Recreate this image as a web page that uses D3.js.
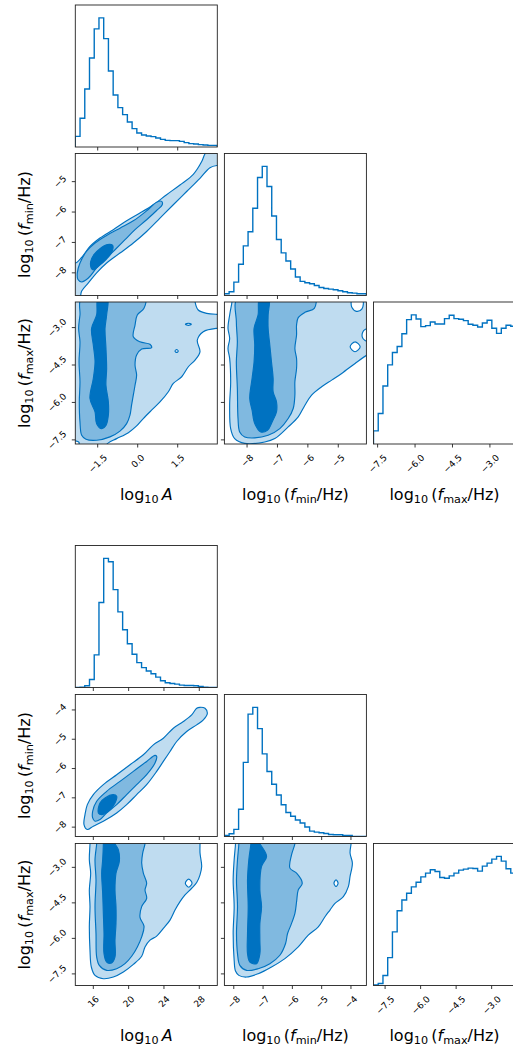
<!DOCTYPE html>
<html>
<head>
<meta charset="utf-8">
<script src="https://cdn.jsdelivr.net/npm/d3@7"></script>
<style>
  body { margin: 0; background: #fff; }
  svg { display: block; font-family: "DejaVu Sans", sans-serif; }
</style>
</head>
<body>
<div id="chart"></div>
<script>
// ---- axis ranges and ticks (upper corner plot) ----
const topRangeA    = [-2.34, 2.985];
const topRangeFmin = [-8.745, -4.075];
const topRangeFmax = [-7.665, -1.975];
const topTicksA    = [-1.5, 0.0, 1.5];
const topTicksFmin = [-8, -7, -6, -5];
const topTicksFmax = [-7.5, -6.0, -4.5, -3.0];

// ---- axis ranges and ticks (lower corner plot) ----
const botRangeA    = [13.96, 30.04];
const botRangeFmin = [-8.32, -3.473];
const botRangeFmax = [-7.99, -1.993];
const botTicksA    = [16, 20, 24, 28];
const botTicksFmin = [-8, -7, -6, -5, -4];
const botTicksFmax = [-7.5, -6.0, -4.5, -3.0];

// ---- 1D histograms, 30 bins over each range ----
const topHistA    = [32, 86, 174, 267, 354, 387, 325, 228, 156, 118, 97, 75, 55, 42, 36, 33, 31, 27, 23, 20, 19, 19, 17, 13, 10, 9, 7, 6, 5, 5];
const topHistFmin = [5, 11, 40, 93, 148, 190, 260, 352, 385, 325, 237, 167, 127, 103, 79, 55, 42, 38, 35, 30, 24, 21, 19, 17, 14, 11, 8, 7, 5, 5];
const topHistFmax = [39, 91, 173, 236, 273, 291, 329, 371, 385, 373, 350, 353, 364, 358, 358, 374, 384, 374, 372, 368, 357, 354, 349, 361, 369, 345, 330, 345, 354, 351];
const botHistA    = [0, 1, 5, 24, 97, 253, 384, 374, 291, 225, 172, 130, 99, 74, 59, 49, 41, 31, 20, 14, 12, 10, 7, 6, 6, 5, 3, 1, 0, 0];
const botHistFmin = [3, 8, 21, 81, 220, 363, 383, 320, 245, 193, 155, 123, 94, 71, 60, 49, 40, 28, 16, 13, 11, 9, 6, 5, 5, 3, 3, 0, 0, 0];
const botHistFmax = [2, 6, 30, 83, 160, 223, 255, 275, 294, 308, 324, 335, 345, 340, 322, 320, 327, 335, 344, 347, 350, 349, 341, 356, 365, 377, 385, 371, 348, 335];

// ---- 2D credible contours (outer / middle / inner), in data units ----
// upper plot: log10 A vs log10 fmin
const topAFmin1 = [[[-2.5,-7.6],[-2.34,-7.675],[-2.10,-7.49],[-1.79,-7.13],[-1.415,-6.855],[-0.915,-6.58],[-0.415,-6.29],[0.085,-6.035],[0.585,-5.76],[1.085,-5.43],[1.585,-5.11],[2.085,-4.76],[2.40,-4.34],[2.52,-4.09],[2.7,-3.9],[3.2,-3.9],[3.2,-4.47],[2.97,-4.47],[2.71,-4.54],[2.335,-4.89],[1.835,-5.325],[1.335,-5.76],[0.835,-6.2],[0.335,-6.64],[-0.165,-7.02],[-0.665,-7.35],[-1.165,-7.675],[-1.54,-8.0],[-1.85,-8.33],[-2.1,-8.6],[-2.2,-8.9],[-2.5,-8.9]]];
const topAFmin2 = [[[-2.265,-8.0],[-2.165,-7.675],[-1.915,-7.29],[-1.60,-7.02],[-1.165,-6.77],[-0.665,-6.53],[-0.165,-6.29],[0.335,-5.96],[0.71,-5.675],[0.90,-5.65],[0.92,-5.76],[0.71,-5.95],[0.335,-6.255],[-0.10,-6.58],[-0.475,-6.91],[-0.85,-7.24],[-1.225,-7.565],[-1.54,-7.84],[-1.85,-8.17],[-2.10,-8.30],[-2.24,-8.22]]];
const topAFmin3 = [[[-1.73,-7.86],[-1.765,-7.64],[-1.64,-7.40],[-1.415,-7.205],[-1.14,-7.07],[-0.94,-7.095],[-0.965,-7.31],[-1.19,-7.565],[-1.465,-7.78],[-1.665,-7.90]]];

// upper plot: log10 A vs log10 fmax
const topAFmax1 = [[[-2.5,-1.8],[2.15,-1.8],[2.15,-1.96],[2.27,-2.295],[2.585,-2.43],[2.97,-2.47],[3.2,-2.47],[3.2,-3.03],[2.97,-3.03],[2.46,-3.165],[2.235,-3.50],[2.335,-3.97],[2.15,-4.30],[1.9,-4.57],[1.65,-4.97],[1.335,-5.24],[1.15,-5.57],[0.835,-5.98],[0.52,-6.31],[0.21,-6.645],[-0.04,-6.94],[-0.35,-7.21],[-0.79,-7.45],[-1.1,-7.62],[-1.3,-7.8],[-2.2,-7.8],[-2.2,-7.6],[-2.34,-7.54],[-2.5,-7.54]]];
const topAFmax2 = [[[-2.1,-1.8],[-2.165,-2.495],[-2.215,-3.03],[-2.165,-3.57],[-2.20,-4.37],[-2.165,-5.17],[-2.19,-5.98],[-2.165,-6.78],[-2.10,-7.315],[-1.94,-7.475],[-1.54,-7.515],[-1.04,-7.38],[-0.665,-7.15],[-0.415,-6.85],[-0.29,-6.51],[-0.23,-6.11],[-0.165,-5.71],[-0.10,-5.31],[-0.04,-4.905],[-0.10,-4.50],[-0.04,-4.10],[0.15,-3.86],[0.52,-3.81],[0.46,-3.67],[0.085,-3.57],[-0.165,-3.365],[-0.10,-2.90],[-0.015,-2.495],[0.235,-2.23],[0.27,-1.8]]];
const topAFmax3 = [[[-1.48,-1.8],[-1.54,-2.495],[-1.73,-3.03],[-1.665,-3.70],[-1.60,-4.37],[-1.665,-5.04],[-1.79,-5.84],[-1.60,-6.38],[-1.54,-6.85],[-1.35,-7.05],[-1.19,-6.92],[-1.10,-6.51],[-1.10,-5.98],[-1.19,-5.31],[-1.165,-4.64],[-1.19,-3.83],[-1.225,-3.03],[-1.165,-2.495],[-1.14,-1.8]]];
const topAFmaxIslands = [[[1.79,-2.87],[1.9,-2.825],[2.01,-2.87],[1.9,-2.915]], [[1.40,-3.94],[1.46,-3.88],[1.52,-3.94],[1.46,-4.0]]];

// upper plot: log10 fmin vs log10 fmax (outer ring followed by holes)
const topFminFmax1 = [
  [[-8.49,-1.8],[-8.495,-1.96],[-8.572,-2.495],[-8.627,-3.031],[-8.572,-3.433],[-8.627,-3.834],[-8.572,-4.236],[-8.539,-5.173],[-8.572,-6.11],[-8.539,-7.047],[-8.407,-7.449],[-8.077,-7.64],[-7.417,-7.583],[-7.087,-7.449],[-6.647,-6.98],[-6.317,-6.578],[-6.097,-6.11],[-5.877,-5.708],[-5.547,-5.374],[-5.217,-5.106],[-4.887,-4.838],[-4.447,-4.437],[-4.062,-4.102],[-3.9,-4.0],[-3.9,-1.8]],
  [[-4.55,-1.9],[-4.55,-2.2],[-4.4,-2.35],[-4.22,-2.25],[-4.2,-1.9]],
  [[-4.2,-3.2],[-4.12,-3.08],[-3.95,-3.05],[-3.95,-3.55],[-4.12,-3.52],[-4.21,-3.38]],
  [[-4.61,-3.77],[-4.45,-3.57],[-4.28,-3.77],[-4.45,-3.97]]
];
const topFminFmax2 = [[[-5.77,-1.8],[-5.789,-2.228],[-6.097,-2.388],[-6.317,-2.603],[-6.372,-2.897],[-6.372,-3.299],[-6.427,-3.834],[-6.372,-4.236],[-6.372,-4.637],[-6.427,-5.173],[-6.427,-5.708],[-6.482,-6.244],[-6.647,-6.645],[-6.922,-7.047],[-7.307,-7.315],[-7.747,-7.422],[-8.077,-7.382],[-8.242,-7.181],[-8.297,-6.645],[-8.319,-5.441],[-8.352,-4.37],[-8.319,-3.566],[-8.352,-2.763],[-8.3,-1.8]]];
const topFminFmax3 = [[[-7.582,-1.8],[-7.637,-2.495],[-7.769,-3.031],[-7.747,-3.70],[-7.769,-4.37],[-7.835,-5.039],[-7.912,-5.842],[-7.835,-6.311],[-7.747,-6.846],[-7.55,-7.181],[-7.329,-7.114],[-7.175,-6.779],[-7.032,-6.378],[-7.032,-5.976],[-7.142,-5.575],[-7.142,-5.039],[-7.197,-4.37],[-7.252,-3.70],[-7.307,-3.031],[-7.307,-2.495],[-7.285,-1.8]]];

// lower plot: log10 A vs log10 fmin
const botAFmin1 = [[[15.323,-7.231],[16.0,-6.891],[17.135,-6.551],[18.645,-6.211],[20.155,-5.871],[21.665,-5.531],[22.797,-5.191],[23.93,-4.964],[25.063,-4.624],[26.195,-4.397],[27.139,-4.17],[27.706,-3.944],[28.083,-3.91],[28.649,-3.944],[28.914,-4.114],[28.461,-4.34],[27.706,-4.51],[26.573,-4.737],[25.44,-5.077],[24.685,-5.417],[23.93,-5.758],[23.175,-6.098],[22.042,-6.551],[20.91,-6.891],[19.777,-7.231],[18.645,-7.515],[17.135,-7.798],[16.0,-7.968],[15.323,-8.082],[14.945,-7.912],[15.058,-7.572]]];
const botAFmin2 = [[[15.927,-7.458],[16.38,-7.118],[17.512,-6.778],[19.022,-6.438],[20.533,-6.098],[22.042,-5.758],[22.986,-5.553],[23.175,-5.587],[22.986,-5.814],[22.042,-6.211],[20.91,-6.551],[19.777,-6.891],[18.645,-7.231],[17.512,-7.515],[16.757,-7.742],[16.191,-7.798],[15.927,-7.685]]];
const botAFmin3 = [[[16.57,-7.515],[16.757,-7.175],[17.323,-7.005],[18.267,-6.891],[18.645,-6.948],[18.456,-7.175],[17.701,-7.458],[16.946,-7.572]]];

// lower plot: log10 A vs log10 fmax
const botAFmax1 = [
  [[15.62,-1.8],[15.624,-2.0],[15.549,-2.679],[15.7,-3.246],[15.549,-3.953],[15.624,-4.661],[15.549,-5.51],[15.624,-6.501],[15.775,-7.209],[16.191,-7.563],[17.135,-7.704],[18.267,-7.633],[19.4,-7.421],[20.533,-7.096],[21.477,-6.756],[21.854,-6.36],[22.42,-6.076],[23.175,-5.906],[23.93,-5.581],[24.685,-5.227],[25.251,-4.803],[25.817,-4.449],[26.384,-4.166],[27.139,-3.883],[27.706,-3.642],[28.083,-3.316],[28.272,-2.962],[28.083,-2.396],[28.083,-2.0],[28.08,-1.8]],
  [[26.42,-3.67],[26.8,-3.5],[27.18,-3.67],[26.8,-3.84]]
];
const botAFmax2 = [[[16.38,-1.8],[16.38,-2.0],[16.191,-2.679],[16.304,-3.529],[16.191,-4.661],[16.304,-5.793],[16.38,-6.784],[16.68,-7.138],[17.512,-7.35],[18.645,-7.28],[19.588,-7.067],[20.344,-6.756],[20.986,-6.36],[21.477,-5.935],[21.741,-5.482],[21.288,-5.114],[21.477,-4.661],[22.042,-4.307],[21.854,-3.953],[22.042,-3.67],[21.665,-3.246],[21.477,-2.821],[21.59,-2.396],[21.854,-2.0],[21.85,-1.8]]];
const botAFmax3 = [[[17.13,-1.8],[17.135,-2.0],[17.059,-2.679],[16.946,-3.246],[17.059,-4.095],[17.135,-4.944],[17.21,-5.793],[17.21,-6.643],[17.512,-6.997],[18.079,-7.039],[18.456,-6.784],[18.456,-6.076],[18.569,-5.369],[18.569,-4.661],[18.456,-3.953],[18.569,-3.246],[18.946,-2.75],[18.834,-2.255],[18.456,-2.0],[18.45,-1.8]]];

// lower plot: log10 fmin vs log10 fmax
const botFminFmax1 = [
  [[-7.94,-1.8],[-7.941,-2.0],[-7.987,-2.679],[-8.021,-3.529],[-7.987,-4.661],[-8.021,-5.793],[-7.987,-6.925],[-7.941,-7.379],[-7.827,-7.563],[-7.565,-7.633],[-7.166,-7.492],[-6.711,-7.209],[-6.255,-6.855],[-5.799,-6.36],[-5.457,-5.864],[-5.115,-5.51],[-4.887,-5.086],[-4.716,-4.803],[-4.545,-4.52],[-4.26,-4.236],[-4.089,-3.812],[-4.031,-3.387],[-3.952,-2.821],[-4.031,-2.396],[-3.997,-2.0],[-4.0,-1.8]],
  [[-4.58,-3.67],[-4.51,-3.53],[-4.44,-3.67],[-4.51,-3.81]]
];
const botFminFmax2 = [[[-7.83,-1.8],[-7.827,-2.0],[-7.873,-2.679],[-7.907,-3.529],[-7.873,-4.661],[-7.907,-5.793],[-7.873,-6.643],[-7.793,-7.138],[-7.565,-7.35],[-7.166,-7.28],[-6.768,-7.067],[-6.426,-6.713],[-6.232,-6.218],[-6.164,-5.793],[-6.05,-5.44],[-5.913,-4.944],[-5.856,-4.449],[-5.799,-3.953],[-5.662,-3.67],[-5.856,-3.246],[-6.084,-3.033],[-6.027,-2.467],[-5.913,-2.0],[-5.91,-1.8]]];
const botFminFmax3 = [[[-7.42,-1.8],[-7.417,-2.0],[-7.486,-2.679],[-7.531,-3.529],[-7.508,-4.661],[-7.531,-5.793],[-7.531,-6.643],[-7.451,-6.997],[-7.223,-7.067],[-7.109,-6.643],[-7.109,-6.076],[-7.109,-5.369],[-7.052,-4.661],[-7.109,-3.953],[-7.052,-2.962],[-6.881,-2.538],[-7.052,-2.113],[-7.109,-2.0],[-7.11,-1.8]]];

// ---- layout ----
const W = 513, H = 1049, CELL = 142;
const colX = [75.3, 224.4, 373.5];
const topRows = [5, 153.5, 302];
const botRows = [545.5, 694.5, 843.5];
const LINE = '#0072C1';
const FILLS = ['#BFDCF0', '#80B9E0', '#0072C1'];
const TICK_FS = 9, LABEL_FS = 16;

const labelA    = [{t: 'log'}, {t: '10', sub: true}, {t: '\u2009'}, {t: 'A', it: true}];
const labelFmin = [{t: 'log'}, {t: '10', sub: true}, {t: '\u2009('}, {t: 'f', it: true}, {t: 'min', sub: true}, {t: '/Hz)'}];
const labelFmax = [{t: 'log'}, {t: '10', sub: true}, {t: '\u2009('}, {t: 'f', it: true}, {t: 'max', sub: true}, {t: '/Hz)'}];

const svg = d3.select('#chart').append('svg').attr('width', W).attr('height', H);
const defs = svg.append('defs');
let clipN = 0;

function mathText(sel, parts) {
  let wasSub = false;
  parts.forEach(p => {
    const t = sel.append('tspan').text(p.t);
    if (p.it) t.attr('font-style', 'italic');
    if (p.sub) { t.attr('font-size', LABEL_FS * 0.7).attr('dy', wasSub ? 0 : 3.3); }
    else if (wasSub) t.attr('dy', -3.3);
    wasSub = !!p.sub;
  });
}

function tickLabel(cx0, cy0, str, side) {
  const t = svg.append('text').attr('font-size', TICK_FS).attr('text-anchor', 'middle')
    .attr('dy', '0.36em').attr('fill', '#000').text(str);
  const w = t.node().getComputedTextLength();
  const s = (w + 0.73 * TICK_FS) * 0.3536;
  const cx = side === 'bottom' ? cx0 : cx0 - 8.3 - s;
  const cy = side === 'bottom' ? cy0 + 9.5 + s : cy0;
  t.attr('x', cx).attr('y', cy).attr('transform', `rotate(-45,${cx},${cy})`);
}

function drawCorner(ranges, ticks, formats, hists, pairs, labels, rows) {
  const xs = ranges.map((r, i) => d3.scaleLinear().domain(r).range([colX[i], colX[i] + CELL]));
  const ys = ranges.map((r, i) => d3.scaleLinear().domain(r).range([rows[i] + CELL, rows[i]]));

  for (let i = 0; i < 3; i++) {
    for (let j = 0; j <= i; j++) {
      const x0 = colX[j], y0 = rows[i];
      const id = 'clip' + (clipN++);
      defs.append('clipPath').attr('id', id).append('rect')
        .attr('x', x0).attr('y', y0).attr('width', CELL).attr('height', CELL);
      const body = svg.append('g').attr('clip-path', `url(#${id})`);

      if (i === j) {
        // step histogram
        const counts = hists[i], n = counts.length;
        const step = (ranges[i][1] - ranges[i][0]) / n;
        const y = d3.scaleLinear().domain([0, 1.1 * d3.max(counts)]).range([y0 + CELL, y0]);
        const pts = [[ranges[i][0], 0]];
        counts.forEach((c, k) => pts.push([ranges[i][0] + k * step, c], [ranges[i][0] + (k + 1) * step, c]));
        pts.push([ranges[i][1], 0]);
        body.append('path').datum(pts)
          .attr('d', d3.line().x(d => xs[i](d[0])).y(d => y(d[1])))
          .attr('fill', 'none').attr('stroke', LINE).attr('stroke-width', 1.4);
      } else {
        // filled contours
        const p = pairs[i + '' + j];
        const line = d3.line().x(d => xs[j](d[0])).y(d => ys[i](d[1]))
          .curve(d3.curveCatmullRomClosed.alpha(0.5));
        p.levels.forEach((rings, k) => {
          body.append('path').attr('d', rings.map(r => line(r)).join(''))
            .attr('fill', FILLS[k]).attr('fill-rule', 'evenodd')
            .attr('stroke', LINE).attr('stroke-width', 1.15);
        });
        (p.islands || []).forEach(r => body.append('path').attr('d', line(r))
          .attr('fill', 'none').attr('stroke', LINE).attr('stroke-width', 1.15));
      }

      svg.append('rect').attr('x', x0).attr('y', y0).attr('width', CELL).attr('height', CELL)
        .attr('fill', 'none').attr('stroke', '#222').attr('stroke-width', 0.9);

      // bottom ticks
      const fx = d3.format(formats[j]);
      ticks[j].forEach(v => {
        const tx = xs[j](v);
        svg.append('line').attr('x1', tx).attr('x2', tx).attr('y1', y0 + CELL).attr('y2', y0 + CELL + 3.5)
          .attr('stroke', '#222').attr('stroke-width', 0.9);
        if (i === 2) tickLabel(tx, y0 + CELL, fx(v), 'bottom');
      });
      // left ticks on 2D panels
      if (i > j) {
        const fy = d3.format(formats[i]);
        ticks[i].forEach(v => {
          const ty = ys[i](v);
          svg.append('line').attr('x1', x0 - 3.5).attr('x2', x0).attr('y1', ty).attr('y2', ty)
            .attr('stroke', '#222').attr('stroke-width', 0.9);
          if (j === 0) tickLabel(x0, ty, fy(v), 'left');
        });
      }
    }
  }

  // axis titles
  for (let j = 0; j < 3; j++) {
    const t = svg.append('text').attr('font-size', LABEL_FS).attr('text-anchor', 'middle')
      .attr('x', colX[j] + CELL / 2).attr('y', rows[2] + CELL + 55.5);
    mathText(t, labels[j]);
  }
  for (let i = 1; i < 3; i++) {
    const cy = rows[i] + CELL / 2;
    const t = svg.append('text').attr('font-size', LABEL_FS).attr('text-anchor', 'middle')
      .attr('x', 29.5).attr('y', cy).attr('transform', `rotate(-90,29.5,${cy})`);
    mathText(t, labels[i]);
  }
}

const labels = [labelA, labelFmin, labelFmax];

drawCorner(
  [topRangeA, topRangeFmin, topRangeFmax],
  [topTicksA, topTicksFmin, topTicksFmax],
  ['.1f', 'd', '.1f'],
  [topHistA, topHistFmin, topHistFmax],
  {
    '10': {levels: [topAFmin1, topAFmin2, topAFmin3]},
    '20': {levels: [topAFmax1, topAFmax2, topAFmax3], islands: topAFmaxIslands},
    '21': {levels: [topFminFmax1, topFminFmax2, topFminFmax3]}
  },
  labels, topRows);

drawCorner(
  [botRangeA, botRangeFmin, botRangeFmax],
  [botTicksA, botTicksFmin, botTicksFmax],
  ['d', 'd', '.1f'],
  [botHistA, botHistFmin, botHistFmax],
  {
    '10': {levels: [botAFmin1, botAFmin2, botAFmin3]},
    '20': {levels: [botAFmax1, botAFmax2, botAFmax3]},
    '21': {levels: [botFminFmax1, botFminFmax2, botFminFmax3]}
  },
  labels, botRows);
</script>
</body>
</html>
